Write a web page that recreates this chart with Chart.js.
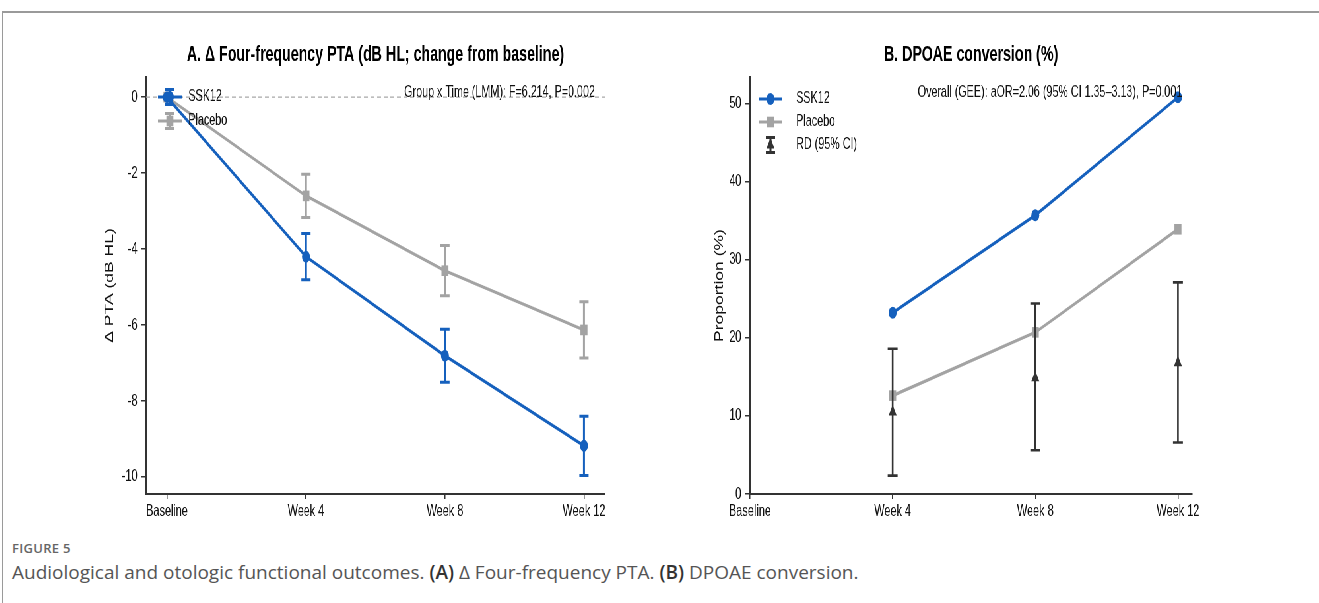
<!DOCTYPE html>
<html>
<head>
<meta charset="utf-8">
<script src="https://cdn.jsdelivr.net/npm/chart.js@4.4.1/dist/chart.umd.min.js"></script>
<style>
  body { margin: 0; width: 1319px; height: 603px; overflow: hidden; background: #fff; position: relative; }
  #frame { position: absolute; left: 2px; top: 11px; width: 1400px; height: 700px; border-left: 1px solid #9a9a9a; border-top: 2px solid #9a9a9a; }
  /* the figure is squeezed sideways like the reference image */
  #fig { position: absolute; left: 90px; top: 20px; width: 1772px; height: 520px; transform: scaleX(0.66); transform-origin: 0 0; }
  #fig canvas { position: absolute; top: 0; }
  #chartA { left: 0; }
  #chartB { left: 860px; }
  #label { position: absolute; left: 12px; top: 539px; font: 600 13px "Open Sans"; color: #666; letter-spacing: 0.3px; }
  #caption { position: absolute; left: 12px; top: 559px; font: 19px/26px "Open Sans"; color: #555; }
  #caption b { color: #333; font-weight: 600; }
</style>
</head>
<body>
<div id="frame"></div>
<div id="fig">
  <canvas id="chartA" width="860" height="520"></canvas>
  <canvas id="chartB" width="912" height="520"></canvas>
</div>
<div id="label">FIGURE 5</div>
<div id="caption">Audiological and otologic functional outcomes. <b>(A)</b> Δ Four-frequency PTA. <b>(B)</b> DPOAE conversion.</div>

<script>
const weeks = ['Baseline', 'Week 4', 'Week 8', 'Week 12'];

// panel A: change in PTA (dB HL), mean and error half-width
const ptaSSK = [0, -4.2, -6.81, -9.18];
const ptaSSKErr = [0, 0.61, 0.7, 0.78];
const ptaPla = [0, -2.6, -4.57, -6.13];
const ptaPlaErr = [0, 0.57, 0.66, 0.74];
const ptaTicks = [0, -2, -4, -6, -8, -10];

// panel B: DPOAE conversion (%), RD with 95% CI
const dpSSK = [null, 23.2, 35.7, 50.8];
const dpPla = [null, 12.6, 20.7, 33.9];
const rdEst = [null, 10.5, 14.9, 16.8];
const rdLow = [null, 2.35, 5.6, 6.6];
const rdHigh = [null, 18.6, 24.4, 27.1];
const dpTicks = [0, 10, 20, 30, 40, 50];

const BLUE = '#1560bd';
const GRAY = '#a3a3a3';
const DARK = '#333333';
const FONT = '"Liberation Sans", Arial, sans-serif';

Chart.defaults.font.family = FONT;

function marker(ctx, style, x, y, r, color) {
	ctx.fillStyle = color;
	ctx.beginPath();
	if (style === 'circle') {
		ctx.arc(x, y, r, 0, Math.PI * 2);
	} else if (style === 'rect') {
		const h = r * Math.SQRT1_2;
		ctx.rect(x - h, y - h, 2 * h, 2 * h);
	} else {
		ctx.moveTo(x, y - r);
		ctx.lineTo(x + r * 0.866, y + r * 0.5);
		ctx.lineTo(x - r * 0.866, y + r * 0.5);
		ctx.closePath();
	}
	ctx.fill();
}

function errBar(ctx, x, y1, y2, cap, color, w) {
	ctx.strokeStyle = color;
	ctx.lineWidth = w;
	ctx.beginPath();
	ctx.moveTo(x, y1); ctx.lineTo(x, y2);
	ctx.moveTo(x - cap, y1); ctx.lineTo(x + cap, y1);
	ctx.moveTo(x - cap, y2); ctx.lineTo(x + cap, y2);
	ctx.stroke();
}

const extras = {
	id: 'extras',
	beforeDatasetsDraw(chart, args, opts) {
		if (!opts.zeroLine) return;
		const { ctx, chartArea: a, scales: { y } } = chart;
		const py = y.getPixelForValue(0);
		ctx.save();
		ctx.strokeStyle = '#a8a8a8';
		ctx.lineWidth = 1.2;
		ctx.setLineDash([6, 4]);
		ctx.beginPath();
		ctx.moveTo(a.left, py);
		ctx.lineTo(a.right, py);
		ctx.stroke();
		ctx.restore();
	},
	beforeDatasetDraw(chart, args) {
		const ds = chart.data.datasets[args.index];
		if (!ds.errLo) return;
		const { ctx, scales: { x, y } } = chart;
		ctx.save();
		ds.errLo.forEach((lo, i) => {
			if (lo == null || lo === ds.errHi[i]) return;
			errBar(ctx, x.getPixelForValue(i), y.getPixelForValue(lo), y.getPixelForValue(ds.errHi[i]), ds.capSize, ds.errColor, ds.errWidth);
		});
		ctx.restore();
	},
	afterDatasetsDraw(chart, args, opts) {
		const { ctx, chartArea: a } = chart;
		ctx.save();
		// title
		ctx.fillStyle = '#000';
		ctx.font = 'bold 21.5px ' + FONT;
		ctx.textAlign = 'center';
		ctx.textBaseline = 'middle';
		ctx.fillText(opts.title, (a.left + a.right) / 2, a.top - 22);
		// stats note
		ctx.fillStyle = '#111';
		ctx.font = '16.3px ' + FONT;
		ctx.textAlign = 'right';
		ctx.fillText(opts.note, a.right - 15, a.top + 16);
		// legend
		ctx.textAlign = 'left';
		opts.legend.forEach((it, k) => {
			const yy = a.top + opts.legendTop + k * opts.legendStep;
			const x0 = a.left + opts.handleX, x1 = x0 + 36, xm = (x0 + x1) / 2;
			if (it.line) {
				ctx.strokeStyle = it.color;
				ctx.lineWidth = 3.2;
				ctx.beginPath(); ctx.moveTo(x0, yy); ctx.lineTo(x1, yy); ctx.stroke();
			}
			if (it.err) errBar(ctx, xm, yy - 7.5, yy + 7.5, 7, it.color, 3);
			marker(ctx, it.style, xm, yy, it.r, it.color);
			ctx.fillStyle = '#111';
			ctx.fillText(it.label, a.left + opts.textX, yy);
		});
		ctx.restore();
	}
};

function xScale(min, max) {
	return {
		type: 'linear', min: min, max: max,
		afterBuildTicks: s => { s.ticks = weeks.map((w, i) => ({ value: i })); },
		afterFit: s => { s.height = 46; },
		ticks: { callback: v => weeks[v], font: { size: 16.5 }, color: '#111', padding: 3, maxRotation: 0, autoSkip: false },
		grid: { drawOnChartArea: false, drawTicks: true, tickLength: 5, color: DARK, lineWidth: 1.5 },
		border: { color: DARK, width: 2 }
	};
}

function yScale(min, max, ticks, title, width, titlePad) {
	return {
		type: 'linear', min: min, max: max,
		afterBuildTicks: s => { s.ticks = ticks.map(v => ({ value: v })); },
		afterFit: s => { s.width = width; },
		ticks: { font: { size: 16.5 }, color: '#111', padding: 6 },
		grid: { drawOnChartArea: false, drawTicks: true, tickLength: 7, color: DARK, lineWidth: 1.5 },
		border: { color: DARK, width: 2 },
		title: { display: true, text: title, font: { size: 17.5 }, color: '#111', padding: { top: titlePad, bottom: 0 } }
	};
}

function pts(vals) {
	return vals.map((v, i) => ({ x: i, y: v }));
}

const chartA = new Chart(document.getElementById('chartA'), {
	type: 'line',
	data: {
		datasets: [{
			label: 'SSK12',
			data: pts(ptaSSK),
			borderColor: BLUE, borderWidth: 3.2,
			pointStyle: 'circle', pointRadius: 6, pointBackgroundColor: BLUE, pointBorderWidth: 0,
			errLo: ptaSSK.map((v, i) => v - ptaSSKErr[i]),
			errHi: ptaSSK.map((v, i) => v + ptaSSKErr[i]),
			errColor: BLUE, errWidth: 3, capSize: 7,
			order: 1
		}, {
			label: 'Placebo',
			data: pts(ptaPla),
			borderColor: GRAY, borderWidth: 3.2,
			pointStyle: 'rect', pointRadius: 7.5, pointBackgroundColor: GRAY, pointBorderWidth: 0,
			errLo: ptaPla.map((v, i) => v - ptaPlaErr[i]),
			errHi: ptaPla.map((v, i) => v + ptaPlaErr[i]),
			errColor: GRAY, errWidth: 3, capSize: 7,
			order: 2
		}]
	},
	options: {
		responsive: false,
		animation: false,
		events: [],
		layout: { padding: { top: 57, right: 80, bottom: 0, left: 0 } },
		scales: {
			x: xScale(-0.15, 3.15),
			y: yScale(-10.45, 0.53, ptaTicks, 'Δ PTA (dB HL)', 85, 20)
		},
		plugins: {
			legend: { display: false },
			tooltip: { enabled: false },
			extras: {
				title: 'A. Δ Four-frequency PTA (dB HL; change from baseline)',
				note: 'Group x Time (LMM): F=6.214, P=0.002',
				zeroLine: true,
				legendTop: 20, legendStep: 24, handleX: 18, textX: 64,
				legend: [
					{ label: 'SSK12', color: BLUE, style: 'circle', r: 6, line: true, err: true },
					{ label: 'Placebo', color: GRAY, style: 'rect', r: 7.5, line: true, err: true }
				]
			}
		}
	},
	plugins: [extras]
});

const chartB = new Chart(document.getElementById('chartB'), {
	type: 'line',
	data: {
		datasets: [{
			label: 'SSK12',
			data: pts(dpSSK),
			borderColor: BLUE, borderWidth: 3.2,
			pointStyle: 'circle', pointRadius: 6, pointBackgroundColor: BLUE, pointBorderWidth: 0,
			order: 1
		}, {
			label: 'Placebo',
			data: pts(dpPla),
			borderColor: GRAY, borderWidth: 3.2,
			pointStyle: 'rect', pointRadius: 7.5, pointBackgroundColor: GRAY, pointBorderWidth: 0,
			order: 2
		}, {
			label: 'RD (95% CI)',
			data: pts(rdEst),
			showLine: false,
			pointStyle: 'triangle', pointRadius: 7, pointBackgroundColor: DARK, pointBorderWidth: 0,
			errLo: rdLow, errHi: rdHigh,
			errColor: DARK, errWidth: 2.6, capSize: 7.5,
			order: 0
		}]
	},
	options: {
		responsive: false,
		animation: false,
		events: [],
		layout: { padding: { top: 57, right: 102, bottom: 0, left: 0 } },
		scales: {
			x: xScale(0, 3.1),
			y: yScale(0, 53.4, dpTicks, 'Proportion (%)', 140, 84)
		},
		plugins: {
			legend: { display: false },
			tooltip: { enabled: false },
			extras: {
				title: 'B. DPOAE conversion (%)',
				note: 'Overall (GEE): aOR=2.06 (95% CI 1.35–3.13), P=0.001',
				zeroLine: false,
				legendTop: 22, legendStep: 23, handleX: 13, textX: 70,
				legend: [
					{ label: 'SSK12', color: BLUE, style: 'circle', r: 6, line: true, err: false },
					{ label: 'Placebo', color: GRAY, style: 'rect', r: 7.5, line: true, err: false },
					{ label: 'RD (95% CI)', color: DARK, style: 'triangle', r: 7, line: false, err: true }
				]
			}
		}
	},
	plugins: [extras]
});
</script>
</body>
</html>
